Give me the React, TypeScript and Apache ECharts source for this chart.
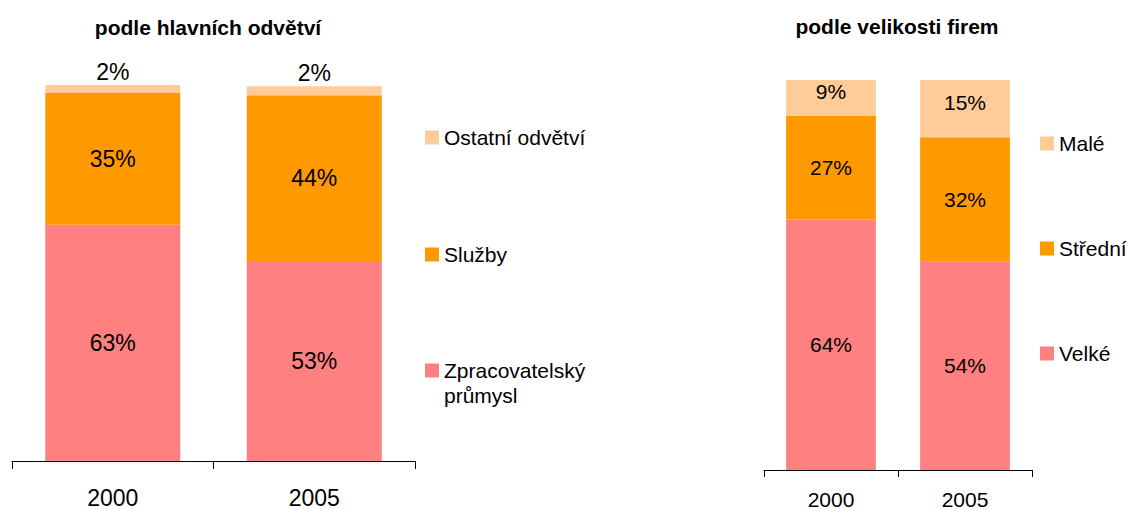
import React, { useEffect, useRef } from "react";
import * as echarts from "echarts";

const years = ["2000", "2005"];

// left chart: by main sector (share in %)
const sectorNames = ["Zpracovatelský průmysl", "Služby", "Ostatní odvětví"];
const manufacturing = [62.8, 53.2];
const services = [35.1, 44.1];
const otherSectors = [2.1, 2.4];

// right chart: by firm size (share in %)
const sizeNames = ["Velké", "Střední", "Malé"];
const large = [64.2, 53.5];
const medium = [26.6, 31.8];
const small = [9.2, 14.7];

const COLORS = ["#FF8080", "#FF9900", "#FFCC99"];
const FONT = "'Liberation Sans', Arial, sans-serif";

export default function App() {
  const ref = useRef<HTMLDivElement>(null);

  useEffect(() => {
    if (!ref.current) return;
    const chart = echarts.init(ref.current, undefined, { renderer: "svg" });

    const fmt = (p: any) => Math.round(p.value) + "%";

    const mkSeries = (
      name: string,
      data: number[],
      color: string,
      idx: number,
      stack: string,
      fontSize: number,
      onTop: boolean,
      offsetY = 0
    ) => ({
      name,
      type: "bar",
      stack,
      xAxisIndex: idx,
      yAxisIndex: idx,
      data,
      barWidth: "67%",
      itemStyle: { color },
      label: {
        show: true,
        position: onTop ? "top" : "inside",
        distance: 2,
        offset: [0, offsetY],
        formatter: fmt,
        color: "#000",
        fontSize,
        fontFamily: FONT,
      },
    });

    const legendItem = (name: string, left: number, top: number, fontSize: number, formatter?: any) => ({
      data: [name],
      left,
      top,
      orient: "vertical",
      padding: 0,
      itemWidth: 14,
      itemHeight: 14,
      itemGap: 5,
      icon: "rect",
      selectedMode: false,
      textStyle: { color: "#000", fontSize, fontFamily: FONT },
      formatter,
    });

    chart.setOption({
      animation: false,
      backgroundColor: "#fff",
      title: [
        {
          text: "podle hlavních odvětví",
          left: 203,
          top: 12,
          textAlign: "center",
          textStyle: { fontSize: 21, fontWeight: "bold", color: "#000", fontFamily: FONT },
        },
        {
          text: "podle velikosti firem",
          left: 892,
          top: 11,
          textAlign: "center",
          textStyle: { fontSize: 21, fontWeight: "bold", color: "#000", fontFamily: FONT },
        },
      ],
      legend: [
        legendItem(sectorNames[2], 425, 127, 21),
        legendItem(sectorNames[1], 425, 244, 21),
        legendItem(sectorNames[0], 425, 360, 21, () => "Zpracovatelský"),
        legendItem(sizeNames[2], 1040, 133, 21),
        legendItem(sizeNames[1], 1040, 238, 21),
        legendItem(sizeNames[0], 1040, 343, 21),
      ],
      graphic: [
        {
          type: "text",
          left: 444,
          top: 385,
          style: { text: "průmysl", fontSize: 21, fontFamily: FONT, fill: "#000" },
        },
      ],
      grid: [
        { left: 12, top: 85, width: 403, height: 376 },
        { left: 764, top: 80, width: 268, height: 391 },
      ],
      xAxis: [
        {
          type: "category",
          gridIndex: 0,
          data: years,
          axisLine: { lineStyle: { color: "#000", width: 1 } },
          axisTick: { show: true, length: 8, lineStyle: { color: "#000" } },
          axisLabel: { fontSize: 23, color: "#000", fontFamily: FONT, margin: 25 },
        },
        {
          type: "category",
          gridIndex: 1,
          data: years,
          axisLine: { lineStyle: { color: "#000", width: 1 } },
          axisTick: { show: true, length: 7, lineStyle: { color: "#000" } },
          axisLabel: { fontSize: 21, color: "#000", fontFamily: FONT, margin: 19 },
        },
      ],
      yAxis: [
        { type: "value", gridIndex: 0, min: 0, max: 100, show: false, splitLine: { show: false } },
        { type: "value", gridIndex: 1, min: 0, max: 100, show: false, splitLine: { show: false } },
      ],
      series: [
        mkSeries(sectorNames[0], manufacturing, COLORS[0], 0, "a", 23, false),
        mkSeries(sectorNames[1], services, COLORS[1], 0, "a", 23, false),
        mkSeries(sectorNames[2], otherSectors, COLORS[2], 0, "a", 23, true),
        mkSeries(sizeNames[0], large, COLORS[0], 1, "b", 21, false),
        mkSeries(sizeNames[1], medium, COLORS[1], 1, "b", 21, false),
        mkSeries(sizeNames[2], small, COLORS[2], 1, "b", 21, false, -6),
      ],
    });

    return () => chart.dispose();
  }, []);

  return (
    <div
      ref={ref}
      style={{ position: "fixed", left: 0, top: 0, width: 1130, height: 510 }}
    />
  );
}
